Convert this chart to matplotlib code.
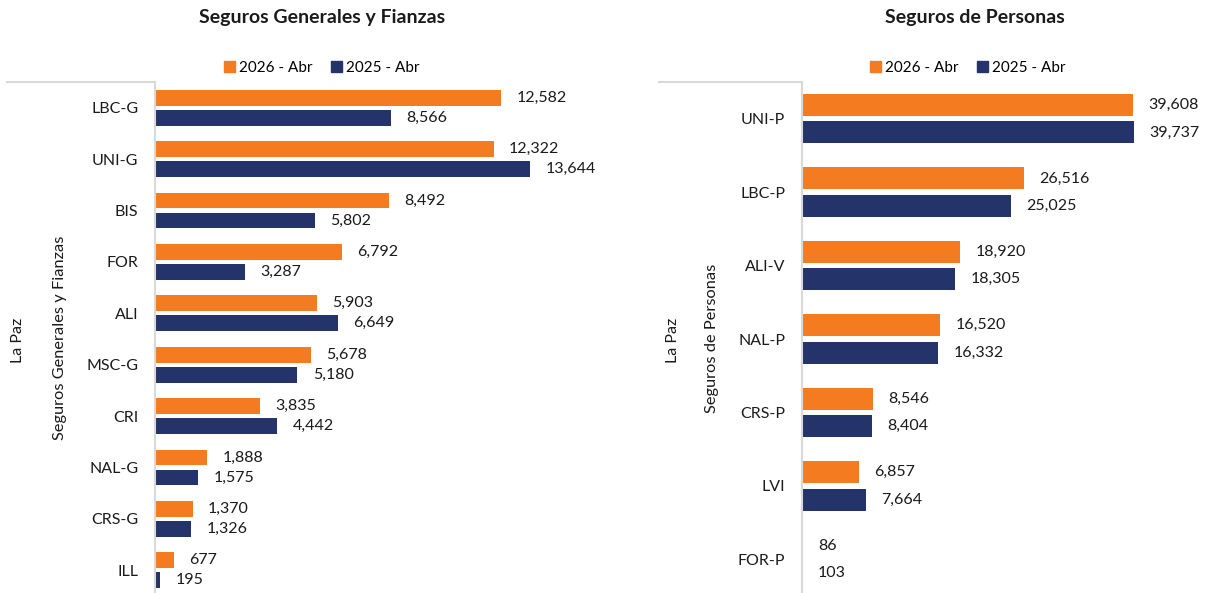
import matplotlib
matplotlib.use("Agg")
import matplotlib.pyplot as plt
from matplotlib.lines import Line2D
from matplotlib.patches import Patch
import numpy as np

# === DATA ===
gen_cats = ["LBC-G", "UNI-G", "BIS", "FOR", "ALI", "MSC-G", "CRI", "NAL-G", "CRS-G", "ILL"]
gen_2026 = [12582, 12322, 8492, 6792, 5903, 5678, 3835, 1888, 1370, 677]
gen_2025 = [8566, 13644, 5802, 3287, 6649, 5180, 4442, 1575, 1326, 195]

per_cats = ["UNI-P", "LBC-P", "ALI-V", "NAL-P", "CRS-P", "LVI", "FOR-P"]
per_2026 = [39608, 26516, 18920, 16520, 8546, 6857, 86]
per_2025 = [39737, 25025, 18305, 16332, 8404, 7664, 103]

series_names = ["2026 - Abr", "2025 - Abr"]

# === STYLE ===
c_new = "#F47B20"
c_old = "#24336A"
c_axis = "#D9D9D9"
c_text = "#1a1a1a"
W, H = 1206, 593
plt.rcParams["font.family"] = ["Lato", "DejaVu Sans"]

fig = plt.figure(figsize=(W / 100, H / 100), dpi=100)


def panel(x0, x1, xmax, cats, v_new, v_old, bh, off, title, group, tcx, lcx, line_x0, lab_x):
    y_top, y_bot = 82, 596
    ax = fig.add_axes([x0 / W, (H - y_bot) / H, (x1 - x0) / W, (y_bot - y_top) / H])
    n = len(cats)
    y = np.arange(n)
    ax.barh(y - off, v_new, height=bh, color=c_new)
    ax.barh(y + off, v_old, height=bh, color=c_old)
    ax.set_ylim(n - 0.5, -0.5)
    ax.set_xlim(0, xmax)
    ax.set_yticks(y)
    ax.set_yticklabels(cats, fontsize=11.5, color=c_text)
    ax.tick_params(axis="y", length=0, pad=12)
    ax.set_xticks([])
    for s in ["top", "right", "bottom"]:
        ax.spines[s].set_visible(False)
    ax.spines["left"].set_color(c_axis)
    ax.spines["left"].set_linewidth(1.5)
    for yy, v in zip(y - off, v_new):
        ax.annotate(f"{v:,}", (v, yy), xytext=(11, 0), textcoords="offset points",
                    va="center", ha="left", fontsize=11.5, color=c_text)
    for yy, v in zip(y + off, v_old):
        ax.annotate(f"{v:,}", (v, yy), xytext=(11, 0), textcoords="offset points",
                    va="center", ha="left", fontsize=11.5, color=c_text)
    # outer category box line
    fig.add_artist(Line2D([line_x0 / W, x0 / W], [1 - y_top / H, 1 - y_top / H],
                          color=c_axis, lw=1.5))
    fig.text(lab_x[0] / W, 1 - 340 / H, "La Paz", rotation=90, ha="center", va="center",
             fontsize=11.5, color=c_text)
    fig.text(lab_x[1] / W, 1 - 338 / H, group, rotation=90, ha="center", va="center",
             fontsize=11.8, color=c_text)
    fig.text(tcx / W, 1 - 17 / H, title, ha="center", va="center", fontsize=14,
             fontweight="bold", color=c_text)
    handles = [Patch(color=c_new), Patch(color=c_old)]
    fig.legend(handles, series_names, loc="center", bbox_to_anchor=(lcx / W, 1 - 68 / H),
               ncol=2, frameon=False, fontsize=11, handlelength=0.7, handleheight=0.7,
               handletextpad=0.3, columnspacing=1.2)
    return ax


panel(155, 540, 14000, gen_cats, gen_2026, gen_2025, 0.31, 0.195,
      "Seguros Generales y Fianzas", "Seguros Generales y Fianzas", 322, 322, 7, (18, 60))
panel(802, 1178, 45000, per_cats, per_2026, per_2025, 0.30, 0.187,
      "Seguros de Personas", "Seguros de Personas", 975, 968, 659, (673, 712))

fig.savefig("out.png", dpi=100)
